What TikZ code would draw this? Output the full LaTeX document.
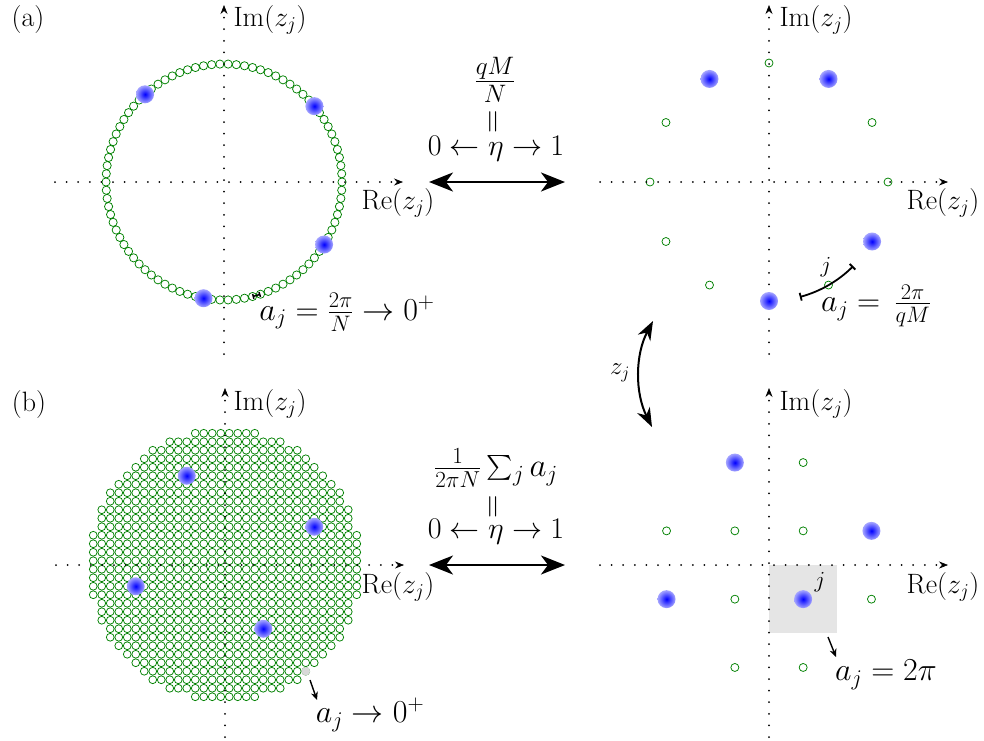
\RequirePackage{fix-cm}
\documentclass[tikz,border=0pt]{standalone}
\usepackage{amsmath}
\usepackage{exscale}
\usepackage{graphicx}
\usetikzlibrary{arrows.meta,calc}
\definecolor{dotgreen}{RGB}{0,128,0}
\tikzset{
  axisdots/.style={line width=2pt, line cap=round, dash pattern=on 0pt off 11.6pt},
  axistip/.style={-{Stealth[length=9pt,width=7pt,inset=3pt]}, line width=0.6pt},
  site/.style={draw=dotgreen, line width=0.75pt},
  bluedot/.style={inner color=blue, outer color=blue!35!white},
  lbl/.style={inner sep=0pt, font=\fontsize{28}{32}\selectfont},
  ajtxt/.style={inner sep=0pt, font=\fontsize{32}{36}\selectfont},
  midtxt/.style={inner sep=0pt, font=\fontsize{30}{34}\selectfont},
  fractxt/.style={inner sep=0pt, font=\fontsize{36}{40}\selectfont},
  sumtxt/.style={inner sep=0pt, font=\fontsize{33}{37}\selectfont},
  jtxt/.style={inner sep=0pt, font=\fontsize{23}{26}\selectfont},
  eqbar/.style={inner sep=0pt, font=\fontsize{26}{30}\selectfont},
  bigarrow/.style={line width=2.3pt, {Stealth[length=24pt,width=19pt,inset=7pt]}-{Stealth[length=24pt,width=19pt,inset=7pt]}},
  curvearrow/.style={line width=2pt, {Stealth[length=19pt,width=14pt,inset=6pt]}-{Stealth[length=19pt,width=14pt,inset=6pt]}},
  smallarrow/.style={line width=1.4pt, -{Stealth[length=8pt,width=7pt,inset=2.5pt]}},
  barline/.style={line width=1.8pt, {Bar[width=8pt]}-{Bar[width=8pt]}},
}
\newcommand{\myaxes}{%
  \coordinate (xl) at (-169,0); \coordinate (xr) at (179,0);
  \coordinate (yb) at (0,-172); \coordinate (yt) at (0,177);
  \draw[axisdots] (xl) -- ($(xr)+(-4,0)$);
  \draw[axisdots] (yb) -- ($(yt)+(0,-4)$);
  \draw[axistip] ($(xr)+(-4,0)$) -- (xr);
  \draw[axistip] ($(yt)+(0,-4)$) -- (yt);
}
\newcommand{\vereq}{\scalebox{1.25}{\rotatebox{90}{$=$}}}
\begin{document}
\begin{tikzpicture}[x=1pt,y=-1pt]
\useasboundingbox (0,0) rectangle (984,740);

% ---------------- panel (a) left
\begin{scope}[shift={(224,182)},yscale=-1]
  \foreach \k in {0,...,89} \draw[site] (\k*4:118) circle (4.1);
  \myaxes
  \foreach \a in {132,40,-32,-100} \shade[bluedot] (\a:118) circle (9);
  \draw[line width=1.5pt, {Bar[width=5pt]}-{Bar[width=5pt]}] (-76:118) arc[start angle=-76, end angle=-72, radius=118];
\end{scope}

% ---------------- panel (a) right
\begin{scope}[shift={(769,182)},yscale=-1]
  \foreach \a in {0,30,90,150,180,210,240,300} \draw[site] (\a:119) circle (4);
  \myaxes
  \foreach \a in {60,120,270,330} \shade[bluedot] (\a:119) circle (9);
  \draw[barline] (-75:119) arc[start angle=-75, end angle=-45, radius=119];
\end{scope}

% ---------------- panel (b) left
\begin{scope}[shift={(225,565)},yscale=-1]
  \foreach \i in {-16,...,15}{\foreach \j in {-16,...,15}{
    \pgfmathsetmacro\rr{(\i+0.5)^2+(\j+0.5)^2}
    \ifdim\rr pt<256.1pt \draw[site] ({(\i+0.5)*8.5},{(\j+0.5)*8.5}) circle (3.9);\fi
  }}
  \filldraw[draw=gray!30, line width=0.75pt, fill=gray!30] ({9.5*8.5},{-12.5*8.5}) circle (3.9);
  \myaxes
  \foreach \p/\q in {-4.5/10.5,10.5/4.5,-10.5/-2.5,4.5/-7.5} \shade[bluedot] ({\p*8.5},{\q*8.5}) circle (9);
\end{scope}

% ---------------- panel (b) right
\begin{scope}[shift={(769,565)},yscale=-1]
  \fill[gray!20] (0,0) rectangle (68,-68);
  \foreach \p/\q in {0.5/1.5,-1.5/0.5,-0.5/0.5,0.5/0.5,-0.5/-0.5,1.5/-0.5,-0.5/-1.5,0.5/-1.5}
    \draw[site] ({\p*68.3},{\q*68.3}) circle (4);
  \myaxes
  \foreach \p/\q in {-0.5/1.5,1.5/0.5,-1.5/-0.5,0.5/-0.5} \shade[bluedot] ({\p*68.3},{\q*68.3}) circle (9);
\end{scope}

% ---------------- labels
\node[lbl] (pa) at (28,20) {(a)};
\node[lbl] (pb) at (29,405) {(b)};
\node[lbl] (imA) at (270,20) {$\mathrm{Im}(z_j)$};
\node[lbl] (reA) at (398,203) {$\mathrm{Re}(z_j)$};
\node[lbl] (imB) at (816,20) {$\mathrm{Im}(z_j)$};
\node[lbl] (reB) at (943,203) {$\mathrm{Re}(z_j)$};
\node[lbl] (imC) at (270,404) {$\mathrm{Im}(z_j)$};
\node[lbl] (reC) at (398,587) {$\mathrm{Re}(z_j)$};
\node[lbl] (imD) at (816,404) {$\mathrm{Im}(z_j)$};
\node[lbl] (reD) at (943,587) {$\mathrm{Re}(z_j)$};

\node[ajtxt] (ajA) at (347,312) {$a_j = \frac{2\pi}{N} \to 0^+$};
\node[ajtxt] (ajB) at (876,306) {$a_j = \,\frac{2\pi}{qM}$};
\node[ajtxt] (ajC) at (370,715) {$a_j \to 0^+$};
\node[ajtxt] (ajD) at (886,675) {$a_j = 2\pi$};
\node[jtxt] (jB) at (826,267) {$j$};
\node[jtxt] (jD) at (820,582) {$j$};
\node[lbl, font=\fontsize{25}{30}\selectfont] (zj) at (620,373) {$z_j$};

% middle top
\node[fractxt] (fracA) at (495,80) {$\frac{qM}{N}$};
\node[eqbar] (eqA) at (495,122) {\vereq};
\node[midtxt,anchor=base] (etaA) at (496,155) {$0\leftarrow\eta\rightarrow1$};
\coordinate (dlA) at (429,182); \coordinate (drA) at (565,182);
\draw[bigarrow] (dlA) -- (drA);

% middle bottom
\node[sumtxt] (sumB) at (496,468) {$\frac{1}{2\pi N}\sum_j a_j$};
\node[eqbar] (eqB) at (495,507) {\vereq};
\node[midtxt,anchor=base] (etaB) at (496,538) {$0\leftarrow\eta\rightarrow1$};
\coordinate (dlB) at (429,565); \coordinate (drB) at (565,565);
\draw[bigarrow] (dlB) -- (drB);

% curved arrow
\coordinate (zt) at (653,321); \coordinate (zb) at (652,427);
\draw[curvearrow] (zt) .. controls (635,355) and (635,393) .. (zb);

% small arrows
\coordinate (sa1) at (310,680); \coordinate (sa2) at (317,700);
\draw[smallarrow] (sa1) -- (sa2);
\coordinate (sb1) at (828,637); \coordinate (sb2) at (836,657);
\draw[smallarrow] (sb1) -- (sb2);
\end{tikzpicture}
\end{document}
